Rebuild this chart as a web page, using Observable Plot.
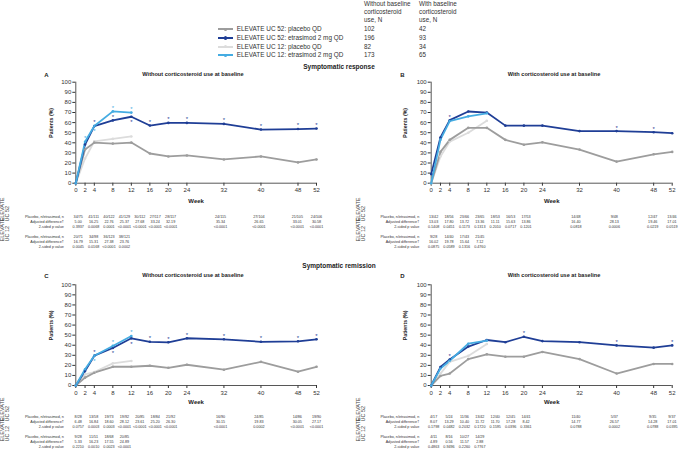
<!DOCTYPE html>
<html><head><meta charset="utf-8">
<script src="https://cdn.jsdelivr.net/npm/d3@7"></script>
<script src="https://cdn.jsdelivr.net/npm/@observablehq/plot@0.6"></script>
<style>
body{margin:0;background:#fff;}
#root{position:relative;width:681px;height:463px;font-family:"Liberation Sans",Arial,sans-serif;color:#222;overflow:hidden;background:#fff;}
.abs{position:absolute;white-space:nowrap;line-height:1;}
.c{transform:translate(-50%,-50%);}
.l{transform:translate(0,-50%);}
.b{font-weight:bold;}
</style></head><body><div id="root"></div>
<script>
// ---------- data ----------
const weeks52 = [0, 2, 4, 8, 12, 16, 20, 24, 32, 40, 48, 52];
const weeks12 = [0, 2, 4, 8, 12];
const tableWeeks = [2, 4, 8, 12, 16, 20, 24, 32, 40, 48, 52];

const seriesNames = ["ELEVATE UC 52: placebo QD", "ELEVATE UC 52: etrasimod 2 mg QD", "ELEVATE UC 12: placebo QD", "ELEVATE UC 12: etrasimod 2 mg QD"];
const nWithoutCS = [102, 196, 82, 173];
const nWithCS = [42, 93, 34, 65];
const rowLabels = ["Placebo, n/etrasimod, n", "Adjusted difference\u2020", "2-sided p value"];

// A: symptomatic response, without corticosteroid use
const respNoCS_pbo52 = [0, 33.3, 40.2, 39.2, 40.2, 29.4, 26.5, 27.5, 23.5, 26.5, 20.6, 23.5];
const respNoCS_etr52 = [0, 38.3, 56.6, 62.2, 65.8, 57.1, 59.7, 59.7, 58.7, 53.1, 53.6, 54.1];
const respNoCS_pbo12 = [0, 24.4, 41.5, 43.9, 46.3];
const respNoCS_etr12 = [0, 41.0, 56.6, 71.1, 69.9];
const tabA_n52 = ["34/75", "41/111", "40/122", "41/129", "30/112", "27/117", "28/117", "24/115", "27/104", "21/105", "24/106"];
const tabA_d52 = ["5.00", "16.25", "22.76", "25.37", "27.68", "33.24", "32.19", "35.34", "26.65", "33.01", "30.58"];
const tabA_p52 = ["0.3937", "0.0068", "0.0001", "<0.0001", "<0.0001", "<0.0001", "<0.0001", "<0.0001", "<0.0001", "<0.0001", "<0.0001"];
const tabA_n12 = ["20/71", "34/98", "36/123", "38/121"];
const tabA_d12 = ["16.79", "15.31", "27.38", "23.76"];
const tabA_p12 = ["0.0045", "0.0168", "<0.0001", "0.0002"];

// B: symptomatic response, with corticosteroid use
const respCS_pbo52 = [0, 31.0, 42.9, 54.8, 54.8, 42.9, 38.1, 40.5, 33.3, 21.4, 28.6, 31.0];
const respCS_etr52 = [9, 45.2, 62.4, 71.0, 69.9, 57.0, 57.0, 57.0, 51.6, 51.6, 50.5, 49.5];
const respCS_pbo12 = [0, 26.5, 41.2, 50.0, 61.8];
const respCS_etr12 = [0, 43.1, 61.5, 66.2, 69.2];
const tabB_n52 = ["13/42", "18/56", "23/66", "23/65", "18/53", "16/53", "17/53", "14/48", "9/48", "12/47", "13/46"];
const tabB_d52 = ["13.03", "17.80", "13.72", "13.36", "11.11", "15.63", "13.86", "16.40", "28.13", "19.46", "17.01"];
const tabB_p52 = ["0.1408", "0.0451", "0.1173", "0.1313", "0.2010", "0.0717", "0.1201", "0.0818", "0.0006", "0.0219", "0.0519"];
const tabB_n12 = ["9/28", "14/40", "17/43", "21/45"];
const tabB_d12 = ["16.02", "19.78", "15.64", "7.12"];
const tabB_p12 = ["0.0875", "0.0589", "0.1316", "0.4760"];

// C: symptomatic remission, without corticosteroid use
const remNoCS_pbo52 = [0, 7.8, 12.7, 18.6, 18.6, 19.6, 17.6, 20.6, 15.7, 23.5, 13.7, 18.6];
const remNoCS_etr52 = [0, 14.3, 29.6, 37.2, 46.9, 43.4, 42.9, 46.9, 45.9, 43.4, 43.9, 45.9];
const remNoCS_pbo12 = [0, 11.0, 13.4, 22.0, 24.4];
const remNoCS_etr12 = [0, 16.2, 29.5, 39.3, 49.1];
const tabC_n52 = ["8/28", "13/58", "19/73", "19/92", "20/85", "18/84", "21/92", "16/90", "24/85", "14/86", "19/90"];
const tabC_d52 = ["6.48", "16.84", "18.60", "28.12", "23.61", "25.20", "26.30", "30.15", "19.83", "30.05", "27.17"];
const tabC_p52 = ["0.0757", "0.0003", "0.0003", "<0.0001", "<0.0001", "<0.0001", "<0.0001", "<0.0001", "0.0002", "<0.0001", "<0.0001"];
const tabC_n12 = ["9/28", "11/51", "18/68", "20/85"];
const tabC_d12 = ["5.33", "16.23", "17.55", "24.89"];
const tabC_p12 = ["0.2210", "0.0010", "0.0023", "<0.0001"];

// D: symptomatic remission, with corticosteroid use
const remCS_pbo52 = [0, 9.5, 11.9, 26.2, 31.0, 28.6, 28.6, 33.3, 26.2, 11.9, 21.4, 21.4];
const remCS_etr52 = [0, 18.3, 25.8, 38.7, 45.2, 43.0, 48.4, 44.1, 43.0, 39.8, 37.6, 39.8];
const remCS_pbo12 = [0, 11.8, 23.5, 29.4, 41.2];
const remCS_etr12 = [0, 16.9, 24.6, 41.5, 44.6];
const tabD_n52 = ["4/17", "5/24", "11/36", "13/42", "12/40", "12/45", "14/41", "11/40", "5/37", "9/35", "9/37"];
const tabD_d52 = ["8.07", "13.29", "10.40", "11.72", "11.70", "17.28", "8.42", "14.77", "26.57", "14.28", "17.01"];
const tabD_p52 = ["0.1798", "0.0482", "0.2032", "0.1720", "0.1595", "0.0396", "0.3361", "0.0788", "0.0002", "0.0788", "0.0395"];
const tabD_n12 = ["4/11", "8/16", "10/27", "14/29"];
const tabD_d12 = ["4.89", "0.56", "11.57", "2.88"];
const tabD_p12 = ["0.4863", "0.9496", "0.2260", "0.7767"];

// ---------- styles / layout ----------
const FONT = '"Liberation Sans", Arial, sans-serif';
const palette = ["#9d9d9d", "#1f3e96", "#dcdcdc", "#45ace2"];
const drawOrder = [2, 0, 1, 3];

const panels = [
  {letter: "A", sub: "Without corticosteroid use at baseline", values: [respNoCS_pbo52, respNoCS_etr52, respNoCS_pbo12, respNoCS_etr12],
   tab: {n52: tabA_n52, d52: tabA_d52, p52: tabA_p52, n12: tabA_n12, d12: tabA_d12, p12: tabA_p12},
   L: {left: 0, w: 340, top: 70, ml: 75.3, mr: 24, mt: 11.7, mb: 27.3, weekDy: 20, ylabDx: -24.5, ttop: 195, th: 70, tmt: 18.3, tmb: 16.9, titleY: 74.5, letterX: 46.5, subX: 193}},
  {letter: "B", sub: "With corticosteroid use at baseline", values: [respCS_pbo52, respCS_etr52, respCS_pbo12, respCS_etr12],
   tab: {n52: tabB_n52, d52: tabB_d52, p52: tabB_p52, n12: tabB_n12, d12: tabB_d12, p12: tabB_p12},
   L: {left: 340, w: 341, top: 70, ml: 90.7, mr: 9.3, mt: 11.7, mb: 27.3, weekDy: 20, ylabDx: -25.5, ttop: 195, th: 70, tmt: 18.3, tmb: 16.9, titleY: 74.5, letterX: 402.5, subX: 554}},
  {letter: "C", sub: "Without corticosteroid use at baseline", values: [remNoCS_pbo52, remNoCS_etr52, remNoCS_pbo12, remNoCS_etr12],
   tab: {n52: tabC_n52, d52: tabC_d52, p52: tabC_p52, n12: tabC_n12, d12: tabC_d12, p12: tabC_p12},
   L: {left: 0, w: 340, top: 270, ml: 75.3, mr: 24, mt: 14.3, mb: 25, weekDy: 18.5, ylabDx: -24.5, ttop: 395, th: 68, tmt: 19, tmb: 14.2, titleY: 275.8, letterX: 46.5, subX: 193}},
  {letter: "D", sub: "With corticosteroid use at baseline", values: [remCS_pbo52, remCS_etr52, remCS_pbo12, remCS_etr12],
   tab: {n52: tabD_n52, d52: tabD_d52, p52: tabD_p52, n12: tabD_n12, d12: tabD_d12, p12: tabD_p12},
   L: {left: 340, w: 341, top: 270, ml: 90.7, mr: 9.3, mt: 14.3, mb: 25, weekDy: 18.5, ylabDx: -25.5, ttop: 395, th: 68, tmt: 19, tmb: 14.2, titleY: 275.8, letterX: 402.5, subX: 554}}
];

const root = document.getElementById("root");
function addText(txt, x, y, cls, size, extra) {
  const d = document.createElement("div");
  d.className = "abs " + cls;
  d.style.left = x + "px"; d.style.top = y + "px"; d.style.fontSize = size + "px";
  if (extra) Object.assign(d.style, extra);
  d.textContent = txt;
  root.appendChild(d);
  return d;
}
function place(node, left, top) {
  const d = document.createElement("div");
  d.className = "abs";
  d.style.left = left + "px"; d.style.top = top + "px";
  d.appendChild(node);
  root.appendChild(d);
}

// ---------- legend ----------
["Without baseline", "corticosteroid", "use, N"].forEach((t, i) => addText(t, 364, 4 + i * 8, "l", 6.3, {color: "#333"}));
["With baseline", "corticosteroid", "use, N"].forEach((t, i) => addText(t, 419, 4 + i * 8, "l", 6.3, {color: "#333"}));
seriesNames.forEach((name, i) => {
  const y = 29.3 + i * 8.67;
  const line = document.createElement("div");
  line.className = "abs";
  Object.assign(line.style, {left: "218.3px", top: (y - 0.9) + "px", width: "15px", height: "1.8px", background: palette[i]});
  root.appendChild(line);
  const dot = document.createElement("div");
  dot.className = "abs";
  Object.assign(dot.style, {left: "224.2px", top: (y - 1.6) + "px", width: "3.2px", height: "3.2px", borderRadius: "50%", background: palette[i]});
  root.appendChild(dot);
  addText(name, 236.7, y, "l", 6.4, {color: "#333"});
  addText(String(nWithoutCS[i]), 364, y, "l", 6.3, {color: "#333"});
  addText(String(nWithCS[i]), 419, y, "l", 6.3, {color: "#333"});
});
addText("Symptomatic response", 339, 66.7, "c b", 6.5);
addText("Symptomatic remission", 339, 265.5, "c b", 6.5);

// ---------- charts ----------
const sig = s => s.startsWith("<") || parseFloat(s) < 0.05;

function makeChart(P) {
  const L = P.L;
  const pts = [];
  for (const i of drawOrder) {
    const wk = i < 2 ? weeks52 : weeks12;
    P.values[i].forEach((v, j) => pts.push({series: seriesNames[i], week: wk[j], value: v}));
  }
  const stars = [];
  [[1, P.tab.p52, 3], [3, P.tab.p12, 1]].forEach(([i, pv, other]) => {
    const wk = i < 2 ? weeks52 : weeks12;
    pv.forEach((p, k) => {
      if (!sig(p)) return;
      const j = k + 1;
      const v = P.values[i][j];
      const ov = P.values[other][j];
      const below = ov !== undefined && Math.abs(v - ov) < 8 && (v < ov || (v === ov && i === 3));
      stars.push({series: seriesNames[i], week: wk[j], value: v, below});
    });
  });
  return Plot.plot({
    width: L.w, height: 140,
    marginLeft: L.ml, marginRight: L.mr, marginTop: L.mt, marginBottom: L.mb,
    style: {background: "transparent", fontFamily: FONT, overflow: "visible"},
    x: {domain: [0, 52]},
    y: {domain: [0, 100]},
    color: {domain: seriesNames, range: palette},
    marks: [
      Plot.axisY({ticks: d3.range(0, 101, 10), tickSize: 3, tickPadding: 1.5, fontSize: 6, label: null, color: "#333"}),
      Plot.axisX({ticks: weeks52, tickSize: 3, tickPadding: 2, fontSize: 6, label: null, color: "#333"}),
      Plot.ruleY([0], {stroke: "#444", strokeWidth: 0.9}),
      Plot.ruleX([0], {stroke: "#444", strokeWidth: 0.9}),
      Plot.line(pts, {x: "week", y: "value", z: "series", stroke: "series", strokeWidth: 1.8}),
      Plot.dot(pts, {x: "week", y: "value", fill: "series", r: 1.3}),
      Plot.text(stars.filter(d => !d.below), {x: "week", y: "value", text: () => "*", fill: "series", fontSize: 6, dy: -3.5}),
      Plot.text(stars.filter(d => d.below), {x: "week", y: "value", text: () => "*", fill: "series", fontSize: 6, dy: 5.5}),
      Plot.text(["Week"], {frameAnchor: "bottom", dy: L.weekDy, fontSize: 6, fontWeight: "bold", fill: "#222"}),
      Plot.text(["Patients (%)"], {frameAnchor: "left", dx: L.ylabDx, dy: 5, rotate: -90, fontSize: 5.2, fontWeight: "bold", fill: "#222"})
    ]
  });
}

function makeTable(P) {
  const L = P.L;
  const rowKeys = ["n52", "d52", "p52", "gap", "n12", "d12", "p12"];
  const cells = [];
  const add = (row, arr) => arr.forEach((t, k) => cells.push({row, week: tableWeeks[k], text: t}));
  add("n52", P.tab.n52); add("d52", P.tab.d52); add("p52", P.tab.p52);
  add("n12", P.tab.n12); add("d12", P.tab.d12); add("p12", P.tab.p12);
  const labels = ["n52", "d52", "p52", "n12", "d12", "p12"].map((r, i) => ({row: r, label: rowLabels[i % 3]}));
  const groups = [{row: "d52", label: "ELEVATE\nUC 52"}, {row: "d12", label: "ELEVATE\nUC 12"}];
  const fl = L.ml;
  const xd = tableWeeks.slice(0, 7).concat([32, 52]);
  const xr = d3.range(7).map(i => fl + 2.4 + i * 15.4).concat([fl + 144.7, fl + 240.7]);
  return Plot.plot({
    width: L.w, height: L.th,
    marginLeft: fl - 12, marginRight: 5, marginTop: L.tmt, marginBottom: L.tmb,
    style: {background: "transparent", fontFamily: FONT, overflow: "visible"},
    x: {type: "linear", domain: xd, range: xr, axis: null},
    y: {type: "point", domain: rowKeys, padding: 0, axis: null},
    marks: [
      Plot.text(cells, {x: "week", y: "row", text: "text", fontSize: 3.7, fill: "#333"}),
      Plot.text(labels, {y: "row", text: "label", frameAnchor: "left", textAnchor: "end", fontSize: 3.7, fill: "#333"}),
      Plot.text(groups, {y: "row", text: "label", frameAnchor: "left", dx: -58.5, rotate: -90, fontSize: 5.5, lineHeight: 0.85, fill: "#444"})
    ]
  });
}

panels.forEach(P => {
  const L = P.L;
  place(makeTable(P), L.left, L.ttop);
  place(makeChart(P), L.left, L.top);
  addText(P.letter, L.letterX, L.titleY, "c b", 6);
  addText(P.sub, L.subX, L.titleY, "c b", 5.6);
});
</script></body></html>
